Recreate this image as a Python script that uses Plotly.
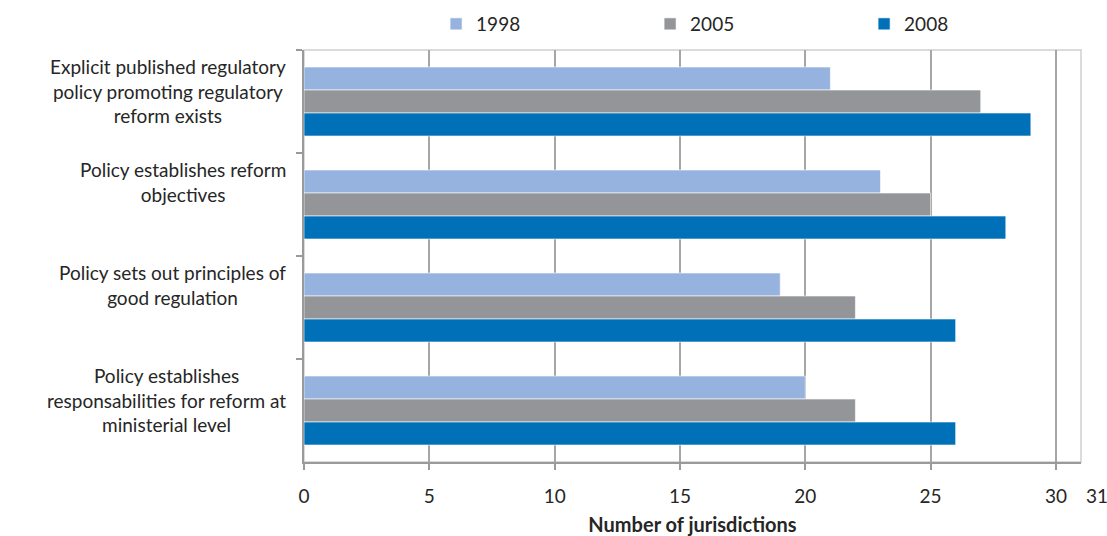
import plotly.graph_objects as go

# Survey questions (top to bottom) and number of jurisdictions per year
categories = [
    "Explicit published regulatory<br>policy promoting regulatory<br>reform exists",
    "Policy establishes reform<br>objectives",
    "Policy sets out principles of<br>good regulation",
    "Policy establishes<br>responsabilities for reform at<br>ministerial level",
]
years = ["1998", "2005", "2008"]
values_1998 = [21, 23, 19, 20]
values_2005 = [27, 25, 22, 22]
values_2008 = [29, 28, 26, 26]
x_ticks = [0, 5, 10, 15, 20, 25, 30]
x_max = 31

colors = ["#95B3DE", "#939598", "#0070B8"]
FONT = "Lato, Carlito, Calibri, sans-serif"
TXT = "#262626"

fig = go.Figure()
for name, vals, col in zip(years, [values_1998, values_2005, values_2008], colors):
    fig.add_trace(go.Bar(
        y=categories, x=vals, name=name, orientation="h",
        marker=dict(color=col, line=dict(color="rgba(255,255,255,0.6)", width=1)),
    ))

# category labels, centred text blocks hanging from each category's top edge
annotations = []
for i, cat in enumerate(categories):
    annotations.append(dict(
        x=0, xref="paper", xanchor="right", xshift=-16,
        y=i - 0.5, yref="y", yanchor="top", yshift=-3,
        text=cat, showarrow=False, align="center",
        font=dict(family=FONT, size=19, color=TXT),
    ))
# end-of-scale label
annotations.append(dict(
    x=x_max, xref="x", xanchor="center", xshift=16,
    y=0, yref="paper", yanchor="top", yshift=-20,
    text=str(x_max), showarrow=False,
    font=dict(family=FONT, size=19, color=TXT),
))

n_cat = len(categories)

fig.update_layout(
    width=1107, height=536,
    margin=dict(l=304, r=26, t=50, b=74, autoexpand=False),
    paper_bgcolor="white", plot_bgcolor="white",
    barmode="group", bargap=0.33, bargroupgap=0,
    font=dict(family=FONT, size=19, color=TXT),
    showlegend=True,
    legend=dict(
        orientation="h", x=0.17, xanchor="left",
        y=1 - 24 / 536, yref="container", yanchor="middle",
        traceorder="normal", itemwidth=30,
        entrywidth=169, entrywidthmode="pixels",
        font=dict(family=FONT, size=19, color=TXT),
    ),
    annotations=annotations,
    shapes=[dict(
        type="rect", xref="x domain", yref="y domain", x0=0, x1=1, y0=0, y1=1,
        line=dict(color="#CFCFCF", width=1.5), layer="below",
    )],
    xaxis=dict(
        range=[0, x_max], tickvals=x_ticks, ticktext=[str(t) for t in x_ticks],
        showgrid=True, gridcolor="#A6A6A6", gridwidth=1.5,
        showline=True, linecolor="#9A9A9A", linewidth=1.5,
        ticks="outside", ticklen=6, tickcolor="#9A9A9A", tickwidth=1.5,
        ticklabelstandoff=10,
        zeroline=False,
        tickfont=dict(family=FONT, size=19, color=TXT),
        title=dict(text="<b>Number of jurisdictions</b>", standoff=14,
                   font=dict(family=FONT, size=20, color=TXT)),
    ),
    yaxis=dict(
        type="category", range=[n_cat - 0.5, -0.5], autorange=False,
        showticklabels=False, showgrid=False,
        showline=True, linecolor="#9A9A9A", linewidth=1.5,
        ticks="outside", tickson="boundaries", ticklen=6,
        tickcolor="#9A9A9A", tickwidth=1.5,
    ),
)

fig.write_html("out.html")
